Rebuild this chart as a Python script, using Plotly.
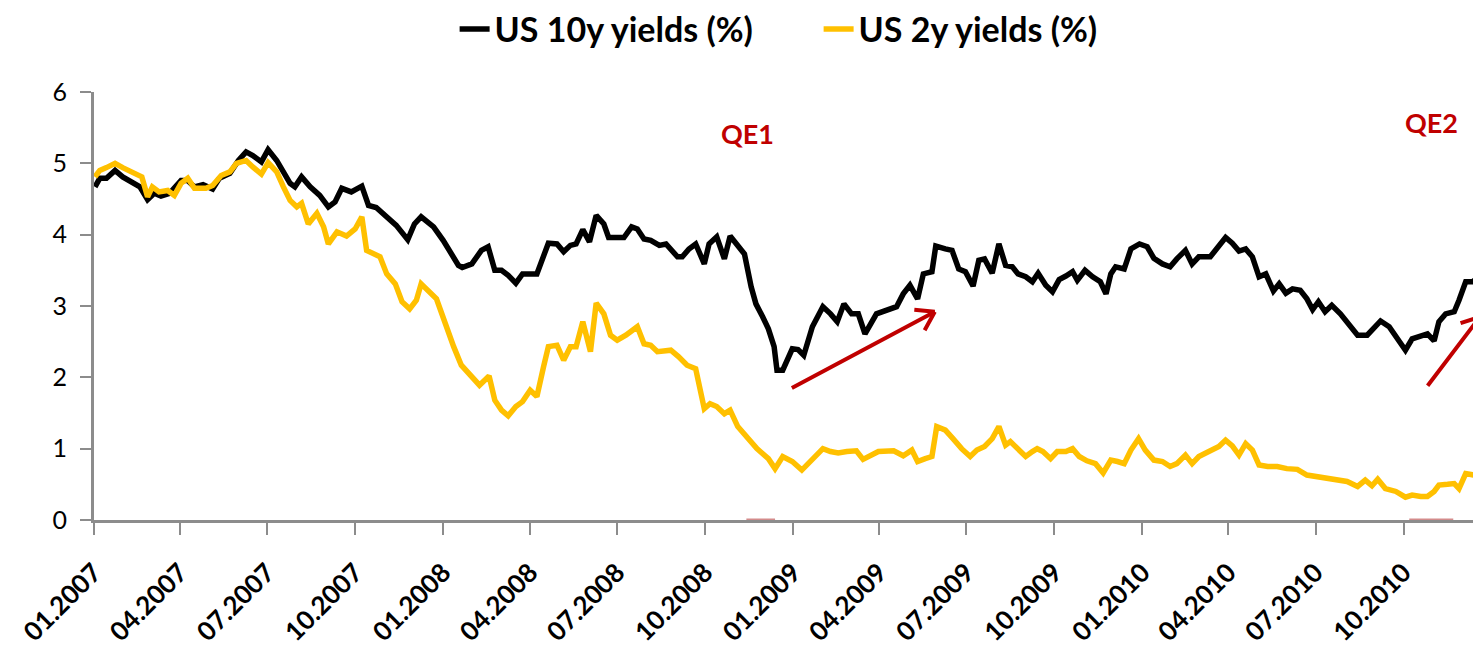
import plotly.graph_objects as go

# ---------------- data ----------------
dates_10y = [
    "2007-01-02", "2007-01-07", "2007-01-14", "2007-01-23", "2007-01-31", "2007-02-11", "2007-02-18",
    "2007-02-26", "2007-03-05", "2007-03-12", "2007-03-21", "2007-04-02", "2007-04-09", "2007-04-16",
    "2007-04-25", "2007-05-05", "2007-05-12", "2007-05-23", "2007-06-01", "2007-06-09", "2007-06-16",
    "2007-06-25", "2007-07-02", "2007-07-11", "2007-07-18", "2007-07-25", "2007-07-30", "2007-08-06",
    "2007-08-15", "2007-08-25", "2007-09-03", "2007-09-10", "2007-09-17", "2007-09-27", "2007-10-08",
    "2007-10-15", "2007-10-23", "2007-11-03", "2007-11-13", "2007-11-25", "2007-12-02", "2007-12-09",
    "2007-12-22", "2008-01-01", "2008-01-08", "2008-01-17", "2008-01-21", "2008-01-31", "2008-02-10",
    "2008-02-17", "2008-02-24", "2008-03-02", "2008-03-09", "2008-03-17", "2008-03-24", "2008-04-08",
    "2008-04-20", "2008-04-29", "2008-05-06", "2008-05-13", "2008-05-19", "2008-05-26", "2008-06-02",
    "2008-06-09", "2008-06-17", "2008-06-22", "2008-07-01", "2008-07-08", "2008-07-16", "2008-07-22",
    "2008-07-29", "2008-08-05", "2008-08-14", "2008-08-21", "2008-09-02", "2008-09-07", "2008-09-14",
    "2008-09-21", "2008-09-30", "2008-10-05", "2008-10-13", "2008-10-21", "2008-10-27", "2008-11-04",
    "2008-11-11", "2008-11-18", "2008-11-23", "2008-11-30", "2008-12-06", "2008-12-12", "2008-12-15",
    "2008-12-21", "2008-12-31", "2009-01-06", "2009-01-12", "2009-01-21", "2009-02-01", "2009-02-09",
    "2009-02-16", "2009-02-23", "2009-03-03", "2009-03-10", "2009-03-17", "2009-03-29", "2009-04-09",
    "2009-04-19", "2009-04-26", "2009-05-03", "2009-05-11", "2009-05-17", "2009-05-26", "2009-05-30",
    "2009-06-09", "2009-06-16", "2009-06-23", "2009-06-30", "2009-07-08", "2009-07-14", "2009-07-20",
    "2009-07-28", "2009-08-04", "2009-08-11", "2009-08-18", "2009-08-24", "2009-09-01", "2009-09-08",
    "2009-09-14", "2009-09-22", "2009-09-29", "2009-10-06", "2009-10-13", "2009-10-20", "2009-10-25",
    "2009-11-02", "2009-11-10", "2009-11-18", "2009-11-24", "2009-11-29", "2009-12-04", "2009-12-13",
    "2009-12-20", "2009-12-29", "2010-01-06", "2010-01-13", "2010-01-22", "2010-01-30", "2010-02-06",
    "2010-02-15", "2010-02-22", "2010-03-01", "2010-03-13", "2010-03-20", "2010-03-29", "2010-04-05",
    "2010-04-12", "2010-04-19", "2010-04-26", "2010-05-03", "2010-05-10", "2010-05-18", "2010-05-24",
    "2010-05-31", "2010-06-07", "2010-06-15", "2010-06-22", "2010-06-28", "2010-07-04", "2010-07-11",
    "2010-07-18", "2010-07-27", "2010-08-05", "2010-08-14", "2010-08-24", "2010-09-02", "2010-09-07",
    "2010-09-16", "2010-09-25", "2010-10-03", "2010-10-10", "2010-10-19", "2010-10-26", "2010-11-02",
    "2010-11-07", "2010-11-14", "2010-11-23", "2010-11-28", "2010-12-05", "2010-12-12", "2010-12-20",
]
yields_10y = [
    4.67, 4.79, 4.79, 4.90, 4.81, 4.72, 4.67,
    4.49, 4.58, 4.54, 4.58, 4.76, 4.76, 4.67,
    4.70, 4.64, 4.79, 4.86, 5.04, 5.16, 5.11,
    5.02, 5.19, 5.04, 4.88, 4.72, 4.67, 4.81,
    4.67, 4.55, 4.39, 4.46, 4.65, 4.60, 4.68,
    4.41, 4.38, 4.25, 4.13, 3.93, 4.15, 4.25,
    4.11, 3.92, 3.78, 3.57, 3.54, 3.59, 3.78,
    3.83, 3.50, 3.50, 3.43, 3.32, 3.45, 3.45,
    3.88, 3.87, 3.76, 3.85, 3.87, 4.07, 3.90,
    4.27, 4.15, 3.96, 3.96, 3.96, 4.11, 4.08,
    3.94, 3.92, 3.85, 3.87, 3.69, 3.69, 3.80,
    3.87, 3.59, 3.87, 3.97, 3.66, 3.98, 3.83,
    3.73, 3.27, 3.03, 2.85, 2.68, 2.43, 2.10,
    2.10, 2.40, 2.39, 2.31, 2.71, 2.99, 2.89,
    2.78, 3.03, 2.89, 2.89, 2.61, 2.89, 2.95,
    2.99, 3.17, 3.29, 3.10, 3.45, 3.48, 3.84,
    3.80, 3.78, 3.52, 3.48, 3.28, 3.64, 3.66,
    3.46, 3.87, 3.57, 3.55, 3.45, 3.41, 3.34,
    3.46, 3.29, 3.20, 3.37, 3.42, 3.48, 3.36,
    3.50, 3.41, 3.34, 3.17, 3.45, 3.55, 3.52,
    3.80, 3.87, 3.83, 3.67, 3.59, 3.55, 3.66,
    3.78, 3.59, 3.69, 3.69, 3.80, 3.96, 3.88,
    3.77, 3.80, 3.69, 3.41, 3.45, 3.21, 3.31,
    3.18, 3.24, 3.22, 3.10, 2.95, 3.06, 2.92,
    3.01, 2.89, 2.75, 2.59, 2.59, 2.73, 2.79,
    2.71, 2.54, 2.38, 2.54, 2.58, 2.61, 2.51,
    2.78, 2.89, 2.92, 3.08, 3.34, 3.34, 3.41,
]

dates_2y = [
    "2007-01-02", "2007-01-07", "2007-01-14", "2007-01-23", "2007-01-31", "2007-02-11", "2007-02-20",
    "2007-02-26", "2007-03-03", "2007-03-10", "2007-03-19", "2007-03-26", "2007-04-02", "2007-04-09",
    "2007-04-16", "2007-04-28", "2007-05-05", "2007-05-14", "2007-05-23", "2007-05-30", "2007-06-09",
    "2007-06-16", "2007-06-25", "2007-07-02", "2007-07-11", "2007-07-18", "2007-07-25", "2007-08-01",
    "2007-08-06", "2007-08-13", "2007-08-22", "2007-08-29", "2007-09-03", "2007-09-12", "2007-09-22",
    "2007-10-01", "2007-10-08", "2007-10-13", "2007-10-27", "2007-11-03", "2007-11-12", "2007-11-19",
    "2007-11-27", "2007-12-04", "2007-12-09", "2007-12-25", "2008-01-03", "2008-01-12", "2008-01-20",
    "2008-01-31", "2008-02-08", "2008-02-18", "2008-02-24", "2008-03-02", "2008-03-09", "2008-03-17",
    "2008-03-24", "2008-04-01", "2008-04-08", "2008-04-15", "2008-04-20", "2008-04-29", "2008-05-06",
    "2008-05-13", "2008-05-19", "2008-05-26", "2008-06-03", "2008-06-09", "2008-06-17", "2008-06-24",
    "2008-07-01", "2008-07-10", "2008-07-22", "2008-07-29", "2008-08-05", "2008-08-12", "2008-08-26",
    "2008-09-03", "2008-09-12", "2008-09-21", "2008-09-30", "2008-10-06", "2008-10-13", "2008-10-21",
    "2008-10-27", "2008-11-04", "2008-11-14", "2008-11-24", "2008-12-06", "2008-12-13", "2008-12-21",
    "2008-12-31", "2009-01-10", "2009-01-21", "2009-02-01", "2009-02-09", "2009-02-17", "2009-02-26",
    "2009-03-08", "2009-03-15", "2009-03-22", "2009-03-31", "2009-04-16", "2009-04-26", "2009-05-05",
    "2009-05-11", "2009-05-19", "2009-05-26", "2009-05-31", "2009-06-09", "2009-06-17", "2009-06-26",
    "2009-07-05", "2009-07-12", "2009-07-20", "2009-07-28", "2009-08-04", "2009-08-11", "2009-08-16",
    "2009-08-25", "2009-09-01", "2009-09-08", "2009-09-13", "2009-09-19", "2009-09-27", "2009-10-04",
    "2009-10-13", "2009-10-20", "2009-10-27", "2009-11-04", "2009-11-13", "2009-11-21", "2009-11-29",
    "2009-12-06", "2009-12-13", "2009-12-20", "2009-12-28", "2010-01-04", "2010-01-13", "2010-01-22",
    "2010-01-30", "2010-02-06", "2010-02-15", "2010-02-22", "2010-03-01", "2010-03-13", "2010-03-22",
    "2010-03-29", "2010-04-05", "2010-04-12", "2010-04-19", "2010-04-26", "2010-05-03", "2010-05-12",
    "2010-05-22", "2010-06-01", "2010-06-12", "2010-06-22", "2010-07-03", "2010-07-13", "2010-07-24",
    "2010-08-03", "2010-08-14", "2010-08-22", "2010-08-29", "2010-09-04", "2010-09-12", "2010-09-23",
    "2010-10-03", "2010-10-10", "2010-10-19", "2010-10-26", "2010-11-02", "2010-11-07", "2010-11-16",
    "2010-11-23", "2010-11-28", "2010-12-05", "2010-12-14", "2010-12-20",
]
yields_2y = [
    4.81, 4.90, 4.94, 5.00, 4.94, 4.86, 4.81,
    4.53, 4.67, 4.60, 4.62, 4.55, 4.72, 4.79,
    4.65, 4.65, 4.69, 4.83, 4.88, 5.00, 5.04,
    4.95, 4.85, 5.01, 4.88, 4.67, 4.48, 4.39,
    4.44, 4.15, 4.30, 4.11, 3.87, 4.04, 3.98,
    4.08, 4.25, 3.78, 3.69, 3.45, 3.31, 3.06,
    2.96, 3.08, 3.31, 3.10, 2.75, 2.43, 2.17,
    2.01, 1.89, 2.02, 1.68, 1.54, 1.46, 1.59,
    1.66, 1.82, 1.73, 2.15, 2.43, 2.45, 2.24,
    2.43, 2.43, 2.78, 2.36, 3.04, 2.89, 2.59,
    2.52, 2.59, 2.71, 2.47, 2.45, 2.36, 2.38,
    2.29, 2.17, 2.12, 1.56, 1.63, 1.59, 1.49,
    1.54, 1.31, 1.14, 1.00, 0.86, 0.72, 0.89,
    0.82, 0.70, 0.86, 1.00, 0.96, 0.94, 0.96,
    0.97, 0.85, 0.90, 0.96, 0.97, 0.90, 0.98,
    0.82, 0.86, 0.89, 1.31, 1.26, 1.14, 1.00,
    0.89, 0.98, 1.03, 1.14, 1.31, 1.05, 1.10,
    0.98, 0.89, 0.96, 1.00, 0.96, 0.86, 0.96,
    0.96, 1.00, 0.89, 0.83, 0.79, 0.66, 0.84,
    0.82, 0.79, 0.98, 1.14, 0.98, 0.84, 0.82,
    0.75, 0.79, 0.91, 0.79, 0.89, 0.97, 1.03,
    1.12, 1.04, 0.91, 1.07, 0.98, 0.77, 0.75,
    0.75, 0.72, 0.71, 0.63, 0.61, 0.58, 0.56,
    0.54, 0.47, 0.56, 0.48, 0.57, 0.44, 0.40,
    0.32, 0.35, 0.33, 0.33, 0.40, 0.49, 0.50,
    0.51, 0.44, 0.65, 0.63, 0.70,
]

series_names = ["US 10y yields (%)", "US 2y yields (%)"]
series_colors = ["#000000", "#FFC000"]

x_range = ["2007-01-01", "2010-12-21"]
y_range = [0, 6]
y_ticks = [0, 1, 2, 3, 4, 5, 6]

# QE annotations
qe_labels = ["QE1", "QE2"]
qe_label_dates = ["2008-11-14", "2010-10-30"]
qe_label_values = [5.42, 5.57]
arrow_start_dates = ["2008-12-29", "2010-10-25"]
arrow_start_values = [1.84, 1.86]
arrow_end_dates = ["2009-05-29", "2010-12-20"]
arrow_end_values = [2.92, 2.85]
qe_axis_start = ["2008-11-13", "2010-10-07"]
qe_axis_end = ["2008-12-13", "2010-11-22"]

# open (chevron) arrow-head arms: pixel offsets from the tip (styling)
arrow_head_arms = [[(-22, -2), (-11, 20)], [(-21, 7), (-2, 22)]]

FONT = "Lato, 'Open Sans', sans-serif"
RED = "#C00000"
AXIS = "#8c8c8c"

# ---------------- figure ----------------
fig = go.Figure()
fig.add_trace(go.Scatter(x=dates_10y, y=yields_10y, mode="lines", name=series_names[0],
                         line=dict(color=series_colors[0], width=5.5)))
fig.add_trace(go.Scatter(x=dates_2y, y=yields_2y, mode="lines", name=series_names[1],
                         line=dict(color=series_colors[1], width=5.5)))

annotations = []
for lbl, xd, yv in zip(qe_labels, qe_label_dates, qe_label_values):
    annotations.append(dict(x=xd, y=yv, xref="x", yref="y", text=lbl, showarrow=False,
                            font=dict(family=FONT, size=27, color=RED, weight="bold")))
for xs, ys, xe, ye, arms in zip(arrow_start_dates, arrow_start_values, arrow_end_dates,
                                arrow_end_values, arrow_head_arms):
    annotations.append(dict(x=xe, y=ye, ax=xs, ay=ys, xref="x", yref="y", axref="x", ayref="y",
                            text="", showarrow=True, arrowhead=0, arrowwidth=4,
                            arrowcolor=RED, standoff=0, startstandoff=0))
    for dx, dy in arms:
        annotations.append(dict(x=xe, y=ye, ax=dx, ay=dy, xref="x", yref="y",
                                text="", showarrow=True, arrowhead=0, arrowwidth=4,
                                arrowcolor=RED, standoff=0))

shapes = []
for xs, xe in zip(qe_axis_start, qe_axis_end):
    shapes.append(dict(type="line", xref="x", yref="y", x0=xs, x1=xe, y0=0, y1=0,
                       line=dict(color="rgba(200,110,110,0.8)", width=3), layer="above"))

fig.update_layout(
    width=1481, height=647,
    margin=dict(l=86, r=8, t=84, b=135),
    paper_bgcolor="white", plot_bgcolor="white",
    font=dict(family=FONT, color="black"),
    showlegend=True,
    legend=dict(orientation="h", x=0.260, xanchor="left", xref="paper",
                y=0.967, yanchor="middle", yref="container",
                font=dict(family=FONT, size=34, color="black", weight="bold"),
                entrywidth=319, entrywidthmode="pixels", bgcolor="rgba(0,0,0,0)",
                traceorder="normal"),
    annotations=annotations,
    shapes=shapes,
    xaxis=dict(type="date", range=x_range, tickformat="%m.%Y", dtick="M3", tick0="2007-01-01",
               tickangle=-45, showgrid=False, zeroline=False, showline=True, linecolor=AXIS,
               linewidth=3, ticks="outside", ticklen=12, tickwidth=2, tickcolor=AXIS,
               ticklabelstandoff=12, ticklabeloverflow="allow", automargin=False,
               tickfont=dict(family=FONT, size=26, color="black", weight="bold")),
    yaxis=dict(range=y_range, tickvals=y_ticks, showgrid=False, zeroline=False, showline=True,
               linecolor=AXIS, linewidth=3, ticks="outside", ticklen=11, tickwidth=2,
               tickcolor=AXIS, ticklabelstandoff=8, automargin=False,
               tickfont=dict(family=FONT, size=25, color="black")),
)

fig.write_html("out.html")
